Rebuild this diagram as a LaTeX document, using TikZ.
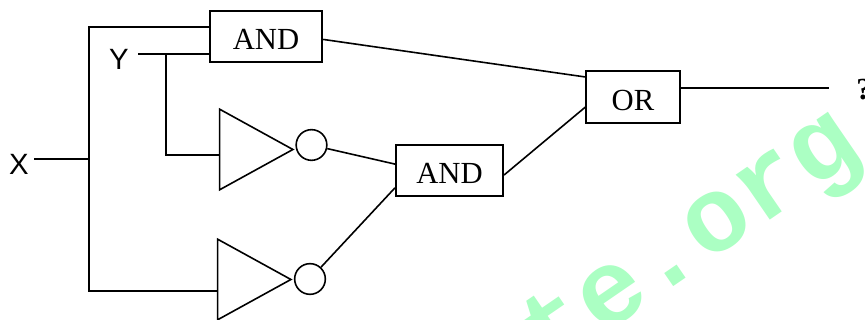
\documentclass[tikz,border=0pt]{standalone}
\usepackage{fontspec}
\usepackage{xcolor}
\usetikzlibrary{shapes.geometric, positioning, calc}
\setmainfont{Liberation Serif}
\newfontfamily\labelfont{Liberation Sans}
\newfontfamily\markfont{Liberation Mono}
\definecolor{markcolor}{RGB}{171, 255, 195}

\begin{document}
\begin{tikzpicture}[
    x=0.75pt, y=-0.75pt,
    gate/.style={draw, line width=1.3pt, minimum height=38.5pt, inner sep=0pt, text height=19pt, text depth=0pt, font=\fontsize{23}{23}\selectfont},
    inverter/.style={draw, line width=1.2pt, isosceles triangle, isosceles triangle stretches, shape border rotate=0, minimum width=60.5pt, minimum height=55pt, inner sep=0pt, anchor=apex},
    bubble/.style={draw, line width=1.2pt, circle, minimum size=23pt, inner sep=0pt},
    signal/.style={font=\labelfont\fontsize{22}{22}\selectfont, inner sep=0pt},
    wire/.style={line width=1.2pt}
]
    \useasboundingbox (0,0) rectangle (865,320);
    \clip (0,0) rectangle (865,320);

    \node[rotate=34.5, text=markcolor, font=\markfont\bfseries\fontsize{80}{80}\selectfont, inner sep=0pt] (mark) at (693,244) {te.org};

    \node[gate, minimum width=84.5pt] (andtop) at (266,36.5) {AND};
    \node[gate, minimum width=80.5pt] (andmid) at (449.5,170.5) {AND};
    \node[gate, minimum width=70pt, text height=21pt] (orgate) at (633,97) {OR};
    \node[inverter] (nota) at (295,149.5) {};
    \node[inverter] (notb) at (293,279.5) {};
    \node[bubble] (bubblea) at (311.5,145) {};
    \node[bubble] (bubbleb) at (310,279) {};

    \node[signal] (inx) at (19,164) {X};
    \node[signal] (iny) at (119,59) {Y};
    \node[font=\fontsize{23}{23}\selectfont\bfseries, inner sep=0pt] (result) at (864,90) {?};

    \coordinate (split) at (89,159);
    \coordinate (inxend) at (34,159);
    \coordinate (inyend) at (138,54);
    \coordinate (branch) at (166,54);
    \coordinate (outend) at (829,88);
    \coordinate (notain) at (220,155);
    \coordinate (notbin) at (217,291);

    \draw[wire] (inxend) -- (split);
    \draw[wire] (split) |- ([yshift=7.1pt]andtop.west);
    \draw[wire] (split) |- (notbin);
    \draw[wire] (inyend) -- (inyend -| andtop.west);
    \draw[wire] (branch) |- (notain);
    \draw[wire] ([yshift=-2.2pt]andtop.east) -- ([yshift=15pt]orgate.west);
    \draw[wire] ([yshift=-3.4pt]andmid.east) -- ([yshift=-7.5pt]orgate.west);
    \draw[wire] (bubblea) -- ([yshift=4.8pt]andmid.west);
    \draw[wire] (bubbleb) -- ([yshift=-13pt]andmid.west);
    \draw[wire] (orgate.east |- outend) -- (outend);
\end{tikzpicture}
\end{document}
